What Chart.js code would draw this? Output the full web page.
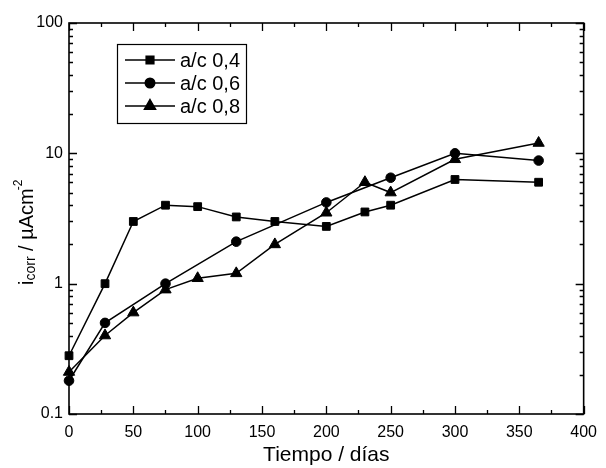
<!DOCTYPE html>
<html>
<head>
<meta charset="utf-8">
<script src="https://cdn.jsdelivr.net/npm/chart.js@4.4.1/dist/chart.umd.min.js"></script>
<style>
  html, body { margin: 0; padding: 0; background: #fff; }
  #wrap { width: 606px; height: 468px; }
</style>
</head>
<body>
<div id="wrap"><canvas id="icorrChart"></canvas></div>
<script>
// tiempo (días) y densidad de corriente de corrosión (µA/cm2)
var days04 = [0, 28, 50, 75, 100, 130, 160, 200, 230, 250, 300, 365];
var icorr04 = [0.28, 1.0, 3.0, 4.0, 3.9, 3.25, 3.0, 2.75, 3.55, 4.0, 6.3, 6.0];
var days06 = [0, 28, 75, 130, 200, 250, 300, 365];
var icorr06 = [0.18, 0.5, 1.0, 2.1, 4.2, 6.5, 10, 8.8];
var days08 = [0, 28, 50, 75, 100, 130, 160, 200, 230, 250, 300, 365];
var icorr08 = [0.21, 0.4, 0.6, 0.9, 1.1, 1.2, 2.0, 3.5, 6.0, 5.0, 9.0, 12.0];

var seriesLabels = ['a/c 0,4', 'a/c 0,6', 'a/c 0,8'];
var yTickValues = [0.1, 1, 10, 100];
var xTitle = 'Tiempo / días';

function toPoints(xs, ys) {
    return xs.map(function (x, i) { return { x: x, y: ys[i] }; });
}

Chart.defaults.font.family = '"Liberation Sans", Arial, sans-serif';
Chart.defaults.color = '#000';

// frame with inward ticks on all four sides
var framePlugin = {
    id: 'frame',
    afterDraw: function (chart) {
        var ctx = chart.ctx, a = chart.chartArea;
        var xs = chart.scales.x, ys = chart.scales.y;
        ctx.save();
        ctx.strokeStyle = '#000';
        ctx.lineWidth = 1.6;
        ctx.strokeRect(a.left, a.top, a.right - a.left, a.bottom - a.top);
        ctx.lineWidth = 1.3;
        ctx.beginPath();
        for (var v = 0; v <= 400; v += 25) {
            var px = Math.round(xs.getPixelForValue(v)) + 0.5;
            var len = (v % 50 === 0) ? 8 : 4;
            ctx.moveTo(px, a.bottom); ctx.lineTo(px, a.bottom - len);
            ctx.moveTo(px, a.top); ctx.lineTo(px, a.top + len);
        }
        [0.1, 1, 10].forEach(function (dec) {
            for (var m = 1; m <= 10; m++) {
                var py = Math.round(ys.getPixelForValue(dec * m)) + 0.5;
                var l = (m === 1 || m === 10) ? 8 : 4;
                ctx.moveTo(a.left, py); ctx.lineTo(a.left + l, py);
                ctx.moveTo(a.right, py); ctx.lineTo(a.right - l, py);
            }
        });
        ctx.stroke();

        // y title with subscript and superscript
        ctx.fillStyle = '#000';
        ctx.translate(33, 285);
        ctx.rotate(-Math.PI / 2);
        ctx.textBaseline = 'alphabetic';
        ctx.textAlign = 'left';
        var x = 0;
        ctx.font = '20px "Liberation Sans", Arial, sans-serif';
        ctx.fillText('i', x, 0); x += ctx.measureText('i').width;
        ctx.font = '14px "Liberation Sans", Arial, sans-serif';
        ctx.fillText('corr', x, 2); x += ctx.measureText('corr').width;
        ctx.font = '20px "Liberation Sans", Arial, sans-serif';
        ctx.fillText(' / µAcm', x, 0); x += ctx.measureText(' / µAcm').width;
        ctx.font = '12px "Liberation Sans", Arial, sans-serif';
        ctx.fillText('-2', x - 2, -11);
        ctx.restore();
    }
};

// boxed legend with line through the marker
var legendPlugin = {
    id: 'boxLegend',
    afterDraw: function (chart) {
        var ctx = chart.ctx;
        var bx = 117, by = 44, bw = 129, bh = 79;
        ctx.save();
        ctx.strokeStyle = '#000';
        ctx.lineWidth = 1.2;
        ctx.strokeRect(bx + 0.5, by + 0.5, bw, bh);
        ctx.font = '20px "Liberation Sans", Arial, sans-serif';
        ctx.fillStyle = '#000';
        ctx.textBaseline = 'middle';
        chart.data.datasets.forEach(function (ds, i) {
            var yy = 60 + i * 23;
            ctx.beginPath();
            ctx.lineWidth = 1.4;
            ctx.moveTo(125, yy); ctx.lineTo(175, yy);
            ctx.stroke();
            Chart.helpers.drawPoint(ctx, {
                pointStyle: ds.pointStyle, radius: ds.pointRadius, rotation: 0, borderWidth: 1
            }, 150, yy);
            ctx.fillStyle = '#000';
            ctx.fill();
            ctx.fillText(ds.label, 180, yy + 1);
        });
        ctx.restore();
    }
};

function makeSet(label, data, style, r) {
    return {
        label: label,
        data: data,
        borderColor: '#000',
        backgroundColor: '#000',
        borderWidth: 1.5,
        pointStyle: style,
        pointRadius: r,
        pointHoverRadius: r,
        pointBorderWidth: 1,
        pointBackgroundColor: '#000',
        pointBorderColor: '#000',
        tension: 0,
        clip: false
    };
}

var ctx = document.getElementById('icorrChart').getContext('2d');
new Chart(ctx, {
    type: 'line',
    data: {
        datasets: [
            makeSet(seriesLabels[0], toPoints(days04, icorr04), 'rect', 5.5),
            makeSet(seriesLabels[1], toPoints(days06, icorr06), 'circle', 4.8),
            makeSet(seriesLabels[2], toPoints(days08, icorr08), 'triangle', 6.5)
        ]
    },
    options: {
        responsive: true,
        maintainAspectRatio: false,
        animation: false,
        layout: { padding: { top: 23, right: 17, left: 0, bottom: 0 } },
        plugins: {
            legend: { display: false },
            tooltip: { enabled: false }
        },
        scales: {
            x: {
                type: 'linear',
                min: 0,
                max: 400,
                grid: { display: false, drawTicks: false },
                border: { display: false },
                ticks: { stepSize: 50, padding: 9, maxRotation: 0, font: { size: 16 } },
                title: { display: true, text: xTitle, font: { size: 21 }, padding: { top: 0, bottom: 0 } },
                afterFit: function (s) { s.height = 54; }
            },
            y: {
                type: 'logarithmic',
                min: 0.1,
                max: 100,
                grid: { display: false, drawTicks: false },
                border: { display: false },
                ticks: {
                    padding: 6,
                    font: { size: 16 },
                    callback: function (v) { return String(v); }
                },
                afterBuildTicks: function (s) {
                    s.ticks = yTickValues.map(function (v) { return { value: v }; });
                },
                afterFit: function (s) { s.width = 69; }
            }
        }
    },
    plugins: [framePlugin, legendPlugin]
});
</script>
</body>
</html>
